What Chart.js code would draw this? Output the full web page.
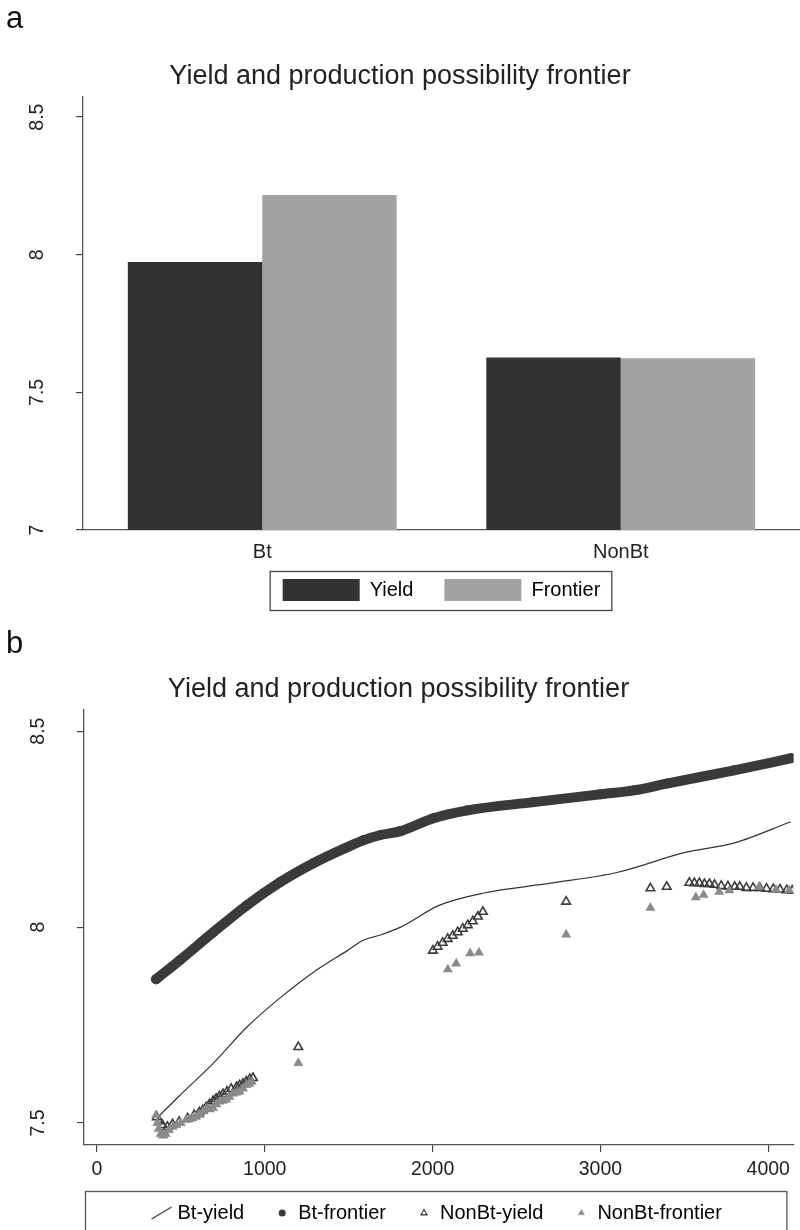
<!DOCTYPE html>
<html>
<head>
<meta charset="utf-8">
<title>Yield and production possibility frontier</title>
<script src="https://cdn.jsdelivr.net/npm/chart.js@4.4.1/dist/chart.umd.min.js"></script>
<style>
  html, body { margin: 0; padding: 0; background: #fff; overflow: hidden; }
  #pagina { position: relative; width: 800px; height: 1230px; font-family: 'Liberation Sans', Arial, sans-serif; }
  .painel { position: absolute; left: 0; width: 800px; }
  .letra { position: absolute; left: 6px; font-size: 31px; line-height: 1; color: #111; }
</style>
</head>
<body>
<div id="pagina">
  <div class="painel" style="top:0; height:613px"><canvas id="graficoA"></canvas></div>
  <div class="painel" style="top:613px; height:617px"><canvas id="graficoB"></canvas></div>
  <div class="letra" style="top:2px">a</div>
  <div class="letra" style="top:627px">b</div>
</div>
<script>
// painel a: barras
const categorias = ['Bt', 'NonBt'];
const yieldBarras = [7.974, 7.627];
const frontierBarras = [8.217, 7.624];
const ticksA = [7, 7.5, 8, 8.5];

// painel b: Bt (linha e fronteira)
const btYieldX = [375, 495, 694, 894, 1093, 1290, 1492, 1590, 1690, 1809, 2042, 2305, 2704, 3104, 3500, 3800, 4135];
const btYieldY = [7.52, 7.571, 7.653, 7.745, 7.82, 7.885, 7.94, 7.967, 7.98, 8.0, 8.056, 8.087, 8.112, 8.14, 8.19, 8.215, 8.269];
const btFrontX = [352, 495, 694, 894, 1093, 1290, 1492, 1590, 1690, 1809, 2006, 2209, 2603, 3003, 3200, 3403, 3797, 4137];
const btFrontY = [7.867, 7.916, 7.987, 8.056, 8.115, 8.163, 8.204, 8.222, 8.235, 8.245, 8.278, 8.298, 8.319, 8.339, 8.349, 8.367, 8.40, 8.431];

// painel b: NonBt (pontos)
const nonYieldX = [357, 372, 390, 420, 450, 490, 540, 580, 610, 631, 650, 670, 692, 710, 730, 752, 775, 800, 832, 850, 870, 890, 911, 930,
  1200,
  2002, 2030, 2060, 2090, 2120, 2150, 2180, 2210, 2240, 2270, 2300,
  2796, 3298, 3395,
  3530, 3560, 3590, 3620, 3650, 3680, 3720, 3760, 3800, 3830, 3870, 3910, 3950, 3990, 4030, 4070, 4110, 4143];
const nonYieldY = [7.515, 7.505, 7.495, 7.49, 7.497, 7.503, 7.512, 7.52, 7.527, 7.533, 7.54, 7.548, 7.556, 7.562, 7.568, 7.574, 7.58, 7.587, 7.592, 7.596, 7.6, 7.606, 7.612, 7.615,
  7.694,
  7.94, 7.95, 7.96, 7.97, 7.978, 7.987, 7.996, 8.005, 8.015, 8.027, 8.039,
  8.065, 8.099, 8.103,
  8.113, 8.112, 8.112, 8.11, 8.11, 8.108, 8.105, 8.104, 8.103, 8.103, 8.1, 8.1, 8.1, 8.098, 8.097, 8.096, 8.094, 8.093];
const nonFrontX = [352, 360, 368, 380, 395, 410, 430, 452, 475, 500, 533, 550, 570, 590, 613, 633, 653, 672, 692, 712, 732, 752, 772, 790, 811, 830, 850, 870, 891, 908, 922,
  1200,
  2091, 2141, 2224, 2276,
  2796, 3298,
  3569, 3615, 3708, 3768, 3946, 4046, 4125];
const nonFrontY = [7.52, 7.5, 7.485, 7.472, 7.468, 7.472, 7.482, 7.49, 7.495, 7.5, 7.508, 7.51, 7.512, 7.516, 7.521, 7.53, 7.538, 7.535, 7.538, 7.548, 7.555, 7.557, 7.56, 7.567, 7.575, 7.578, 7.58, 7.588, 7.597, 7.6, 7.605,
  7.653,
  7.892, 7.907, 7.933, 7.935,
  7.981, 8.049,
  8.076, 8.082, 8.09, 8.094, 8.103, 8.096, 8.094];
const ticksBy = [7.5, 8, 8.5];
const ticksBx = [0, 1000, 2000, 3000, 4000];

const FONTE = "'Liberation Sans', Arial, sans-serif";
const TITULO = 'Yield and production possibility frontier';
Chart.defaults.font.family = FONTE;
Chart.defaults.color = '#222';

const pares = (xs, ys) => xs.map((x, i) => ({ x: x, y: ys[i] }));

// coloca a legenda centrada na área do gráfico e na altura desejada
function posicionarLegenda(topo) {
  return {
    id: 'posLegenda',
    afterLayout(chart) {
      const lg = chart.legend;
      lg.left = chart.chartArea.left;
      lg.right = chart.chartArea.right;
      lg.width = lg.right - lg.left;
      lg.top = topo;
      lg.bottom = chart.height;
      lg.height = lg.bottom - lg.top;
    }
  };
}

// eixo y com rótulos girados (estilo Stata)
function eixoY(min, max, ticks, largura) {
  return {
    type: 'linear', min: min, max: max,
    afterBuildTicks: s => { s.ticks = ticks.map(v => ({ value: v })); },
    afterFit: s => { s.width = largura; },
    ticks: { minRotation: 90, maxRotation: 90, crossAlign: 'center', padding: 25,
             font: { size: 19.5 }, callback: v => String(v) },
    grid: { display: true, drawOnChartArea: false, drawTicks: true, tickLength: 7, color: '#444', lineWidth: 1.2 },
    border: { display: true, color: '#555', width: 1.3 }
  };
}

function configurarGraficoA() {
  const ctx = document.getElementById('graficoA').getContext('2d');
  const moldura = {
    id: 'molduraA',
    afterDraw(chart) {
      const hb = chart.legend.legendHitBoxes;
      if (!hb || !hb.length) return;
      const esq = Math.min(...hb.map(h => h.left)) - 13;
      const dir = Math.max(...hb.map(h => h.left + h.width)) + 11;
      const topo = hb[0].top - 8;
      const c = chart.ctx;
      c.save();
      c.strokeStyle = '#444';
      c.lineWidth = 1.3;
      c.strokeRect(esq + 0.5, topo + 0.5, dir - esq, hb[0].height + 17);
      c.restore();
    }
  };
  new Chart(ctx, {
    type: 'bar',
    data: {
      labels: categorias,
      datasets: [
        { label: 'Yield', data: yieldBarras, backgroundColor: '#323232', borderWidth: 0,
          barPercentage: 1, categoryPercentage: 0.75 },
        { label: 'Frontier', data: frontierBarras, backgroundColor: '#a2a2a2', borderWidth: 0,
          barPercentage: 1, categoryPercentage: 0.75 }
      ]
    },
    options: {
      responsive: true, maintainAspectRatio: false, animation: false,
      layout: { padding: 0 },
      plugins: {
        title: { display: true, text: TITULO, color: '#222',
                 font: { size: 27, weight: 'normal' }, padding: { top: 60, bottom: 4.6 } },
        legend: {
          position: 'bottom', maxHeight: 43,
          labels: {
            boxWidth: 77, boxHeight: 22, padding: 31, color: '#222', font: { size: 20 },
            generateLabels: chart => chart.data.datasets.map((ds, i) => ({
              text: ds.label, fillStyle: ds.backgroundColor, strokeStyle: ds.backgroundColor,
              lineWidth: 0, hidden: false, datasetIndex: i
            }))
          }
        },
        tooltip: { enabled: false }
      },
      scales: {
        x: {
          afterFit: s => { s.height = 40; },
          ticks: { padding: 10, font: { size: 20 } },
          grid: { display: false, drawTicks: false },
          border: { display: true, color: '#555', width: 1.3 }
        },
        y: eixoY(7, 8.573, ticksA, 83)
      }
    },
    plugins: [posicionarLegenda(548), moldura]
  });
}

function configurarGraficoB() {
  const ctx = document.getElementById('graficoB').getContext('2d');

  // ícone da linha fina para a legenda
  const iconeLinha = document.createElement('canvas');
  iconeLinha.width = 22; iconeLinha.height = 14;
  const il = iconeLinha.getContext('2d');
  il.strokeStyle = '#333'; il.lineWidth = 1.1;
  il.beginPath(); il.moveTo(1, 13); il.lineTo(21, 1); il.stroke();

  const icones = [
    { style: iconeLinha, fill: '#333', stroke: '#333', lw: 0 },
    { style: 'circle', fill: '#3a3a3a', stroke: '#3a3a3a', lw: 0 },
    { style: 'triangle', fill: 'rgba(255,255,255,0)', stroke: '#444', lw: 1.3 },
    { style: 'triangle', fill: '#8c8c8c', stroke: '#8c8c8c', lw: 0.5 }
  ];

  const moldura = {
    id: 'molduraB',
    afterDraw(chart) {
      const hb = chart.legend.legendHitBoxes;
      if (!hb || !hb.length) return;
      const a = chart.chartArea;
      const topo = hb[0].top - 12;
      const c = chart.ctx;
      c.save();
      c.strokeStyle = '#555';
      c.lineWidth = 1.3;
      c.strokeRect(a.left + 1.5, topo + 0.5, a.right - a.left - 8, chart.height - topo + 20);
      c.restore();
    }
  };

  new Chart(ctx, {
    type: 'line',
    data: {
      datasets: [
        { label: 'Bt-yield', data: pares(btYieldX, btYieldY), borderColor: '#333', borderWidth: 1.2,
          pointRadius: 0, cubicInterpolationMode: 'monotone', order: 4 },
        { label: 'Bt-frontier', data: pares(btFrontX, btFrontY), borderColor: '#3a3a3a', borderWidth: 10,
          pointRadius: 5, pointBackgroundColor: '#3a3a3a', pointBorderWidth: 0,
          borderCapStyle: 'round', cubicInterpolationMode: 'monotone', order: 3 },
        { type: 'scatter', label: 'NonBt-yield', data: pares(nonYieldX, nonYieldY), showLine: false,
          pointStyle: 'triangle', pointRadius: 5, backgroundColor: 'rgba(255,255,255,0)',
          borderColor: '#3d3d3d', borderWidth: 1.6, order: 2 },
        { type: 'scatter', label: 'NonBt-frontier', data: pares(nonFrontX, nonFrontY), showLine: false,
          pointStyle: 'triangle', pointRadius: 5.3, backgroundColor: '#8a8a8a',
          borderColor: '#8a8a8a', borderWidth: 0.5, order: 1 }
      ]
    },
    options: {
      responsive: true, maintainAspectRatio: false, animation: false,
      layout: { padding: { left: 0, right: 3, top: 0, bottom: 0 } },
      plugins: {
        title: { display: true, text: TITULO, color: '#222',
                 font: { size: 27, weight: 'normal' }, padding: { top: 60, bottom: 4.6 } },
        legend: {
          position: 'bottom', maxHeight: 40,
          labels: {
            usePointStyle: true, boxWidth: 12, boxHeight: 5, padding: 32, color: '#222', font: { size: 20 },
            generateLabels: chart => chart.data.datasets.map((ds, i) => ({
              text: ds.label, fillStyle: icones[i].fill, strokeStyle: icones[i].stroke,
              lineWidth: icones[i].lw, pointStyle: icones[i].style, rotation: 0,
              hidden: false, datasetIndex: i
            }))
          }
        },
        tooltip: { enabled: false }
      },
      scales: {
        x: {
          type: 'linear', min: -77, max: 4150,
          afterBuildTicks: s => { s.ticks = ticksBx.map(v => ({ value: v })); },
          afterFit: s => { s.height = 45; },
          ticks: { padding: 6, font: { size: 19.5 }, callback: v => String(v) },
          grid: { display: true, drawOnChartArea: false, drawTicks: true, tickLength: 7, color: '#444', lineWidth: 1.2 },
          border: { display: true, color: '#555', width: 1.3 }
        },
        y: eixoY(7.444, 8.554, ticksBy, 84)
      }
    },
    plugins: [posicionarLegenda(558), moldura]
  });
}

window.onload = function() {
  configurarGraficoA();
  configurarGraficoB();
};
</script>
</body>
</html>
